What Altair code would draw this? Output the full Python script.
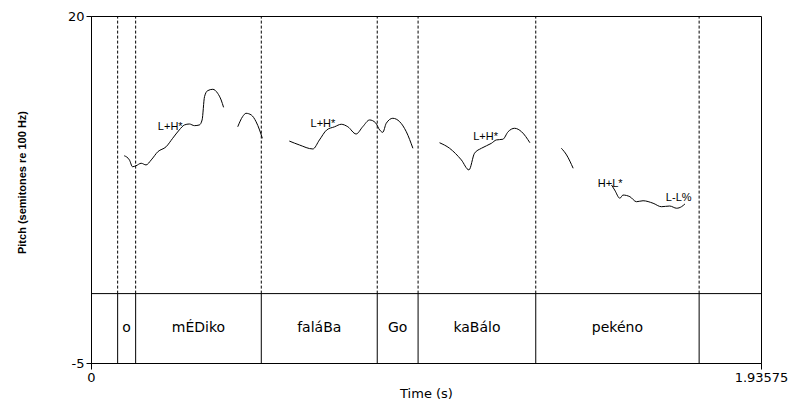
import altair as alt
import pandas as pd

# Interval tier boundaries (s) and word labels
boundaries = [0.077, 0.129, 0.492, 0.827, 0.945, 1.285, 1.757]
words = ["o", "mÉDiko", "faláBa", "Go", "kaBálo", "pekéno"]

# Pitch contour segments (time s, semitones re 100 Hz)
seg1_t = [0.096, 0.111, 0.120, 0.130, 0.145, 0.159, 0.174, 0.193, 0.217, 0.236, 0.255, 0.270,
          0.284, 0.299, 0.313, 0.321, 0.328, 0.337, 0.352, 0.366, 0.376, 0.383]
seg1_p = [9.93, 9.63, 9.14, 9.21, 9.39, 9.27, 9.63, 10.22, 10.58, 11.19, 11.79, 12.15,
          12.22, 12.10, 12.15, 12.51, 14.19, 14.62, 14.72, 14.43, 13.95, 13.42]
seg2_t = [0.424, 0.438, 0.448, 0.463, 0.477, 0.487, 0.495]
seg2_p = [12.02, 12.75, 12.99, 12.87, 12.38, 11.79, 11.19]
seg3_t = [0.573, 0.602, 0.641, 0.660, 0.681, 0.704, 0.723, 0.742, 0.766, 0.785, 0.805, 0.822,
          0.834, 0.843, 0.853, 0.872, 0.892, 0.911, 0.930]
seg3_p = [10.99, 10.71, 10.42, 11.07, 11.79, 12.02, 12.20, 12.02, 11.50, 12.02, 12.51, 12.31,
          11.79, 11.62, 12.27, 12.63, 12.38, 11.66, 10.47]
seg4_t = [1.007, 1.036, 1.070, 1.092, 1.108, 1.128, 1.157, 1.171, 1.190, 1.205, 1.224, 1.244, 1.268]
seg4_p = [10.87, 10.47, 9.63, 8.91, 10.11, 10.47, 10.83, 11.07, 11.12, 11.66, 11.91, 11.66, 10.87]
seg5_t = [1.359, 1.374, 1.393]
seg5_p = [10.47, 9.99, 9.03]
seg6_t = [1.504, 1.513, 1.528, 1.537, 1.557, 1.576, 1.595, 1.624, 1.648, 1.672, 1.692, 1.706, 1.716]
seg6_p = [7.82, 7.46, 6.87, 7.10, 6.98, 6.62, 6.69, 6.51, 6.26, 6.31, 6.15, 6.26, 6.46]

# Tone labels
tones = ["L+H*", "L+H*", "L+H*", "H+L*", "L-L%"]
tone_t = [0.229, 0.670, 1.140, 1.500, 1.698]
tone_p = [11.97, 12.25, 11.25, 7.90, 6.92]

T_END = 1.93575
Y_MIN, Y_MAX, TIER_TOP = -5, 20, 0

segs = [(seg1_t, seg1_p), (seg2_t, seg2_p), (seg3_t, seg3_p),
        (seg4_t, seg4_p), (seg5_t, seg5_p), (seg6_t, seg6_p)]
rows = []
for i, (ts, ps) in enumerate(segs):
    for t, p in zip(ts, ps):
        rows.append({"seg": i, "t": t, "p": p})
pitch_df = pd.DataFrame(rows)

bound_df = pd.DataFrame({"t": boundaries, "y0": [TIER_TOP] * len(boundaries),
                         "y1": [Y_MAX] * len(boundaries), "yb": [Y_MIN] * len(boundaries)})
word_df = pd.DataFrame({"w": words,
                        "t": [(a + b) / 2 for a, b in zip(boundaries[:-1], boundaries[1:])],
                        "y": [-2.5] * len(words)})
tone_df = pd.DataFrame({"lab": tones, "t": tone_t, "p": tone_p})
tier_df = pd.DataFrame({"t0": [0], "t1": [T_END], "y": [TIER_TOP]})

xscale = alt.Scale(domain=[0, T_END], nice=False, zero=False)
yscale = alt.Scale(domain=[Y_MIN, Y_MAX], nice=False, zero=False)

xaxis = alt.Axis(values=[0, T_END], format=".6~g", title="Time (s)", grid=False,
                 tickSize=6, labelPadding=2, labelFont="DejaVu Sans", labelFontSize=13,
                 labelColor="black", tickColor="black", domainColor="black",
                 titleFont="DejaVu Sans", titleFontSize=13, titleFontWeight="normal",
                 titleColor="black", titleY=30, titleBaseline="middle",
                 labelOverlap=False, labelFlush=False)
yaxis = alt.Axis(values=[Y_MIN, Y_MAX], title="Pitch (semitones re 100 Hz)", grid=False,
                 labelExpr="datum.value < 0 ? '-' + format(-datum.value, '~g') : format(datum.value, '~g')",
                 tickSize=5, labelPadding=2, labelFont="DejaVu Sans", labelFontSize=13,
                 labelColor="black", tickColor="black", domainColor="black",
                 titleFont="Liberation Sans", titleFontSize=11, titleFontWeight="bold",
                 titleColor="black", titleX=-69, titleY=166, titleAngle=-90,
                 titleAlign="center", titleBaseline="middle", labelOverlap=False)

dashed = alt.Chart(bound_df).mark_rule(color="black", strokeWidth=1, strokeDash=[3, 2]).encode(
    x=alt.X("t:Q", scale=xscale, axis=xaxis),
    y=alt.Y("y0:Q", scale=yscale, axis=yaxis),
    y2="y1:Q")

solid = alt.Chart(bound_df).mark_rule(color="black", strokeWidth=1).encode(
    x=alt.X("t:Q", scale=xscale), y=alt.Y("yb:Q", scale=yscale), y2="y0:Q")

tier_line = alt.Chart(tier_df).mark_rule(color="black", strokeWidth=1).encode(
    x=alt.X("t0:Q", scale=xscale), x2="t1:Q", y=alt.Y("y:Q", scale=yscale))

pitch = alt.Chart(pitch_df).mark_line(color="black", strokeWidth=1, interpolate="monotone").encode(
    x=alt.X("t:Q", scale=xscale), y=alt.Y("p:Q", scale=yscale), detail="seg:N", order="t:Q")

word_text = alt.Chart(word_df).mark_text(font="DejaVu Sans", fontSize=14, color="black",
                                         baseline="middle", align="center").encode(
    x=alt.X("t:Q", scale=xscale), y=alt.Y("y:Q", scale=yscale), text="w:N")

tone_text = alt.Chart(tone_df).mark_text(font="Liberation Sans", fontSize=11, color="black",
                                         baseline="middle", align="center").encode(
    x=alt.X("t:Q", scale=xscale), y=alt.Y("p:Q", scale=yscale), text="lab:N")

chart = alt.layer(dashed, solid, tier_line, pitch, word_text, tone_text).properties(
    width=670, height=347,
    autosize=alt.AutoSizeParams(type="none"),
    padding={"left": 91, "right": 33, "top": 16, "bottom": 40},
    background="white",
).configure_view(stroke="black", strokeWidth=1)

chart.save("out.html", embed_options={"renderer": "svg", "actions": False})
